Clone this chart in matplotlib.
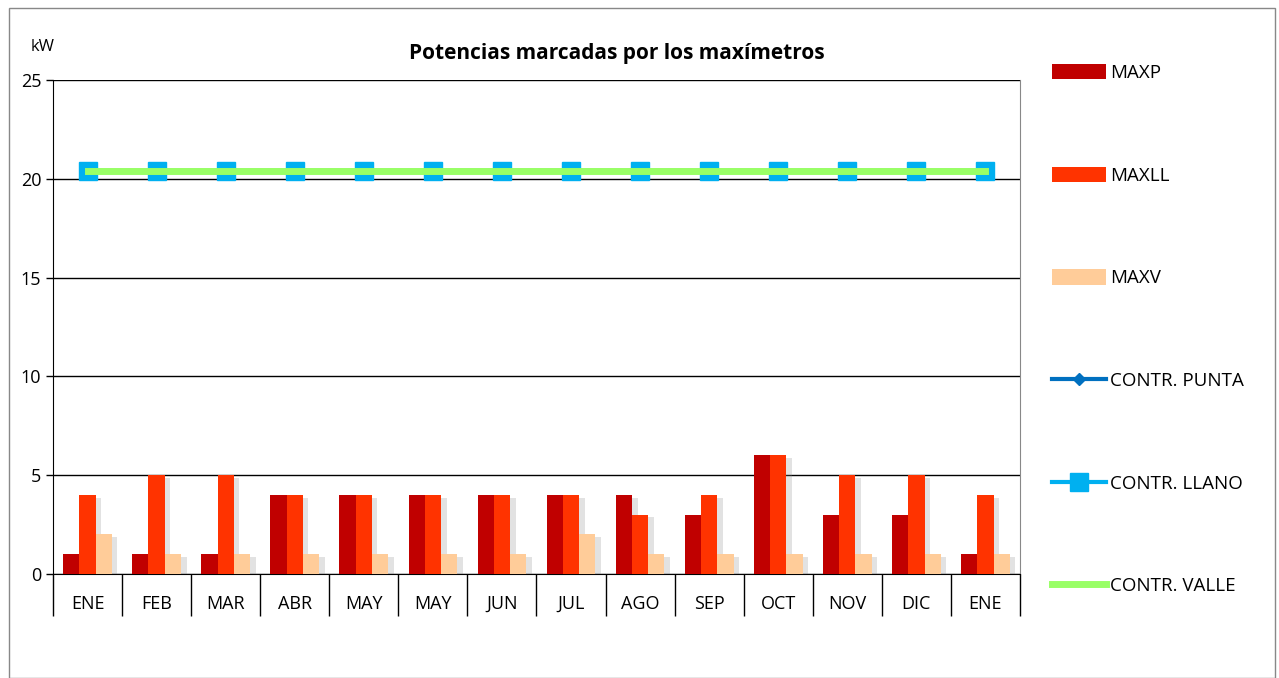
import numpy as np
import matplotlib.pyplot as plt
import matplotlib.patheffects as pe
from matplotlib.patches import Rectangle

plt.rcParams['font.family'] = ['Open Sans', 'DejaVu Sans']

# data
months = ["ENE", "FEB", "MAR", "ABR", "MAY", "MAY", "JUN", "JUL", "AGO", "SEP", "OCT", "NOV", "DIC", "ENE"]
maxp = [1, 1, 1, 4, 4, 4, 4, 4, 4, 3, 6, 3, 3, 1]
maxll = [4, 5, 5, 4, 4, 4, 4, 4, 3, 4, 6, 5, 5, 4]
maxv = [2, 1, 1, 1, 1, 1, 1, 2, 1, 1, 1, 1, 1, 1]
contr_punta = [20.4] * 14
contr_llano = [20.4] * 14
contr_valle = [20.4] * 14

fig = plt.figure(figsize=(12.79, 6.78), dpi=100)
ax = fig.add_axes([53 / 1279, 1 - 574 / 678, (1020 - 53) / 1279, (574 - 80) / 678])

x = np.arange(len(months))
w = 0.235
b1 = ax.bar(x - w, maxp, w, color='#C00000', label='MAXP', zorder=3)
b2 = ax.bar(x, maxll, w, color='#FF3300', label='MAXLL', zorder=3)
b3 = ax.bar(x + w, maxv, w, color='#FFCC99', label='MAXV', zorder=3)

l1, = ax.plot(x, contr_punta, color='#0070C0', lw=3, marker='D', ms=6, label='CONTR. PUNTA', zorder=4)
l2, = ax.plot(x, contr_llano, color='#00B0F0', lw=3, marker='s', ms=13, mec='#00B0F0', label='CONTR. LLANO', zorder=5)
l3, = ax.plot(x, contr_valle, color='#99FF66', lw=5, label='CONTR. VALLE', zorder=6)

ax.set_xlim(-0.5, len(months) - 0.5)
ax.set_ylim(0, 25)
ax.set_yticks(range(0, 26, 5))
ax.yaxis.grid(True, color='black', lw=1)
ax.set_axisbelow(True)
ax.tick_params(axis='y', labelsize=13, length=5, width=1)

# category boxes under the axis
ax.set_xticks(np.arange(-0.5, len(months), 1))
ax.set_xticklabels([])
ax.tick_params(axis='x', which='major', length=30, width=1, color='black')
ax.set_xticks(x, minor=True)
ax.set_xticklabels(months, minor=True, fontsize=13)
ax.tick_params(axis='x', which='minor', length=0, pad=15)

ax.spines['top'].set_visible(False)
ax.spines['right'].set_color('#888888')
ax.spines['left'].set_color('black')
ax.spines['bottom'].set_color('black')

fig.text(617 / 1279, 1 - 53 / 678, "Potencias marcadas por los maxímetros", ha='center', va='center',
         fontsize=15, fontweight='bold')
fig.text(43 / 1279, 1 - 47 / 678, "kW", ha='center', va='center', fontsize=12)

fig.legend(handles=[b1, b2, b3, l1, l2, l3], loc='upper left', bbox_to_anchor=(1035 / 1279, 1 - 47 / 678),
           frameon=False, fontsize=13.5, labelspacing=4.5, handlelength=2.9, handletextpad=0.2,
           handleheight=0.9)

# soft drop shadow on the bars (set after the legend so its patches stay flat)
shadow = [pe.SimplePatchShadow(offset=(4, -2), shadow_rgbFace='0.55', alpha=0.25), pe.Normal()]
for bars in (b1, b2, b3):
    for p in bars:
        p.set_path_effects(shadow)

fig.patches.append(Rectangle((9 / 1279, 0), (1275 - 9) / 1279, 1 - 8 / 678, transform=fig.transFigure,
                             fill=False, edgecolor='#888888', lw=1))

fig.savefig('out.png', dpi=100)
